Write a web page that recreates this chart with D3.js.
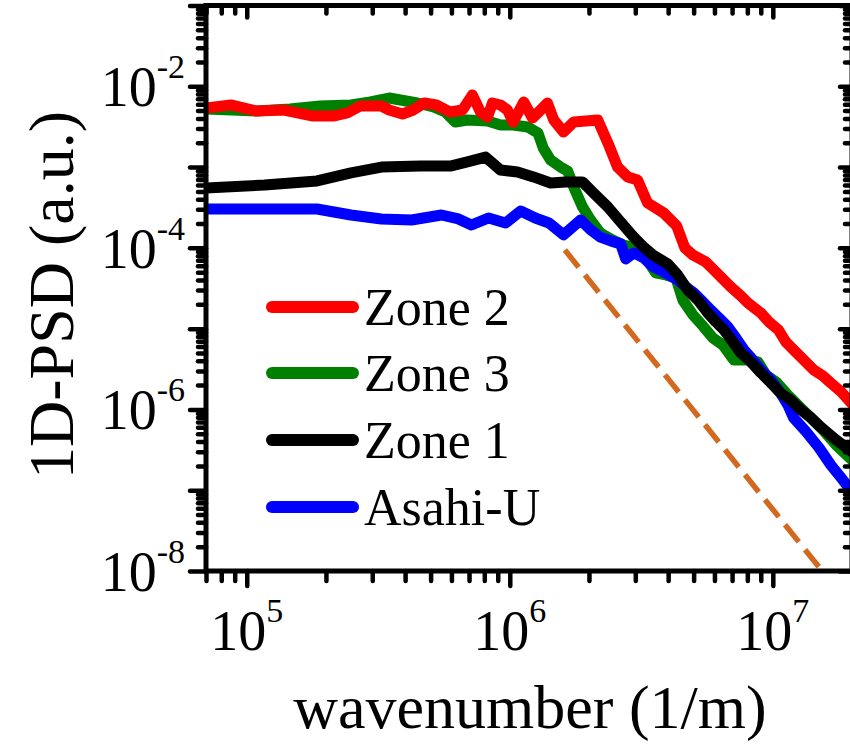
<!DOCTYPE html>
<html>
<head>
<meta charset="utf-8">
<script src="https://cdn.jsdelivr.net/npm/d3@7"></script>
<style>
  html, body { margin: 0; padding: 0; background: #fff; }
  svg { display: block; }
  text { font-family: "Liberation Serif", "Times New Roman", serif; fill: #000; }
</style>
</head>
<body>
<svg id="chart" width="850" height="745"></svg>
<script>
// 1D power spectral density vs. wavenumber, [k (1/m), PSD (a.u.)]
const zone2 = [
  [7.0e4, 5.38e-3], [8.7e4, 5.87e-3], [1.09e5, 4.94e-3], [1.37e5, 5.09e-3], [1.77e5, 4.29e-3],
  [2.15e5, 4.29e-3], [2.41e5, 4.67e-3], [2.70e5, 5.70e-3], [3.25e5, 5.70e-3], [3.48e5, 5.09e-3],
  [3.91e5, 4.54e-3], [4.30e5, 5.09e-3], [4.73e5, 6.21e-3], [5.26e5, 5.87e-3], [5.94e5, 4.80e-3],
  [6.61e5, 5.09e-3], [7.21e5, 7.80e-3], [7.74e5, 4.80e-3], [8.23e5, 4.17e-3], [8.59e5, 6.21e-3],
  [9.22e5, 5.87e-3], [9.80e5, 5.09e-3], [1.03e6, 3.61e-3], [1.13e6, 6.39e-3], [1.22e6, 4.05e-3],
  [1.31e6, 5.09e-3], [1.39e6, 6.21e-3], [1.47e6, 3.83e-3], [1.60e6, 2.72e-3], [1.75e6, 3.61e-3],
  [2.16e6, 3.83e-3], [2.36e6, 1.99e-3], [2.57e6, 1.00e-3], [2.81e6, 7.55e-4], [3.06e6, 6.92e-4],
  [3.34e6, 3.60e-4], [3.85e6, 2.70e-4], [4.31e6, 1.87e-4], [4.63e6, 9.98e-5], [4.96e6, 8.17e-5],
  [5.56e6, 6.69e-5], [5.81e6, 5.81e-5], [6.34e6, 4.37e-5], [6.92e6, 3.28e-5], [7.56e6, 2.54e-5],
  [8.04e6, 2.08e-5], [9.02e6, 1.56e-5], [9.67e6, 1.21e-5], [1.05e7, 9.64e-6], [1.12e7, 6.85e-6],
  [1.20e7, 5.45e-6], [1.31e7, 4.10e-6], [1.43e7, 3.08e-6], [1.55e7, 2.60e-6], [1.66e7, 2.13e-6],
  [1.82e7, 1.65e-6], [2.0e7, 1.17e-6]
];
const zone3 = [
  [7.0e4, 5.24e-3], [1.09e5, 4.94e-3], [1.46e5, 5.24e-3], [1.90e5, 5.70e-3], [2.49e5, 5.87e-3],
  [2.95e5, 6.39e-3], [3.48e5, 7.16e-3], [3.84e5, 6.76e-3], [4.45e5, 6.21e-3], [5.13e5, 5.54e-3],
  [5.69e5, 4.80e-3], [6.21e5, 3.61e-3], [6.90e5, 3.83e-3], [8.23e5, 3.72e-3], [9.22e5, 3.32e-3],
  [1.03e6, 3.32e-3], [1.17e6, 3.13e-3], [1.28e6, 2.64e-3], [1.34e6, 1.72e-3], [1.43e6, 1.22e-3],
  [1.56e6, 1.00e-3], [1.66e6, 8.95e-4], [1.75e6, 5.68e-4], [1.89e6, 3.21e-4], [2.03e6, 2.21e-4],
  [2.21e6, 1.53e-4], [2.46e6, 1.25e-4], [2.69e6, 1.09e-4], [2.88e6, 1.03e-4], [3.15e6, 9.42e-5],
  [3.37e6, 6.69e-5], [3.59e6, 4.89e-5], [3.92e6, 4.62e-5], [4.28e6, 4.24e-5], [4.55e6, 2.26e-5],
  [4.97e6, 1.48e-5], [5.42e6, 1.08e-5], [5.92e6, 7.67e-6], [6.46e6, 6.28e-6], [7.11e6, 4.10e-6],
  [7.90e6, 4.10e-6], [8.78e6, 3.87e-6], [9.42e6, 2.67e-6], [1.03e7, 2.19e-6], [1.14e7, 1.51e-6],
  [1.28e7, 1.04e-6], [1.42e7, 7.42e-7], [1.55e7, 5.57e-7], [1.74e7, 3.64e-7], [2.0e7, 2.37e-7]
];
const zone1 = [
  [7.0e4, 5.51e-4], [1.17e5, 6.00e-4], [1.85e5, 6.73e-4], [2.49e5, 8.46e-4], [3.25e5, 1.00e-3],
  [4.57e5, 1.03e-3], [5.94e5, 1.03e-3], [6.90e5, 1.16e-3], [8.09e5, 1.33e-3], [9.22e5, 9.20e-4],
  [1.07e6, 8.69e-4], [1.23e6, 7.55e-4], [1.43e6, 6.36e-4], [1.63e6, 6.54e-4], [1.89e6, 6.54e-4],
  [2.08e6, 4.78e-4], [2.36e6, 3.21e-4], [2.64e6, 2.09e-4], [2.96e6, 1.36e-4], [3.20e6, 1.05e-4],
  [3.50e6, 8.17e-5], [3.99e6, 6.32e-5], [4.35e6, 4.62e-5], [4.75e6, 3.01e-5], [5.19e6, 2.26e-5],
  [5.66e6, 1.56e-5], [6.08e6, 1.21e-5], [6.52e6, 9.64e-6], [7.05e6, 6.85e-6], [7.56e6, 5.00e-6],
  [8.26e6, 3.87e-6], [9.02e6, 2.83e-6], [9.84e6, 2.13e-6], [1.07e7, 1.60e-6], [1.17e7, 1.31e-6],
  [1.28e7, 9.86e-7], [1.40e7, 7.85e-7], [1.52e7, 6.07e-7], [1.74e7, 4.19e-7], [2.0e7, 2.98e-7]
];
const asahiU = [
  [7.0e4, 3.03e-4], [1.85e5, 3.03e-4], [2.49e5, 2.55e-4], [3.25e5, 2.28e-4], [4.23e5, 2.21e-4],
  [5.50e5, 2.55e-4], [6.38e5, 2.28e-4], [7.15e5, 1.92e-4], [8.30e5, 2.34e-4], [9.64e5, 2.03e-4],
  [1.10e6, 2.86e-4], [1.25e6, 2.34e-4], [1.41e6, 2.03e-4], [1.60e6, 1.45e-4], [1.86e6, 2.21e-4],
  [2.03e6, 1.67e-4], [2.21e6, 1.36e-4], [2.42e6, 1.22e-4], [2.64e6, 1.12e-4], [2.76e6, 7.29e-5],
  [2.96e6, 8.65e-5], [3.23e6, 7.50e-5], [3.52e6, 5.81e-5], [3.92e6, 4.89e-5], [4.35e6, 4.01e-5],
  [4.67e6, 3.28e-5], [5.01e6, 2.77e-5], [5.42e6, 2.14e-5], [5.81e6, 1.70e-5], [6.24e6, 1.36e-5],
  [6.75e6, 1.05e-5], [7.24e6, 7.67e-6], [7.77e6, 5.45e-6], [8.40e6, 4.10e-6], [9.02e6, 3.08e-6],
  [9.84e6, 2.32e-6], [1.07e7, 1.60e-6], [1.14e7, 1.14e-6], [1.20e7, 7.85e-7], [1.34e7, 5.27e-7],
  [1.50e7, 3.34e-7], [1.66e7, 2.06e-7], [1.82e7, 1.42e-7], [2.0e7, 9.53e-8]
];
// k^-4 reference slope
const slopeRef = [[1.62e6, 9.4e-5], [1.54e7, 1.0e-8]];

const seriesNames  = ["Zone 2", "Zone 3", "Zone 1", "Asahi-U"];
const seriesColors = ["#ff0000", "#008000", "#000000", "#0000ff"];
const xMajorTicks = [1e5, 1e6, 1e7];
const xTickExps   = ["5", "6", "7"];
const yMajorTicks = [1e-1, 1e-2, 1e-3, 1e-4, 1e-5, 1e-6, 1e-7, 1e-8];
const yLabelTicks = [1e-2, 1e-4, 1e-6, 1e-8];
const yTickExps   = ["-2", "-4", "-6", "-8"];
const xTitle = "wavenumber (1/m)";
const yTitle = "1D-PSD (a.u.)";

const FONT = '"Liberation Serif", "Times New Roman", serif';
const svg = d3.select("#chart");
const plot = { left: 206, right: 852, top: 5.5, bottom: 571 };

const x = d3.scaleLog().domain([7e4, 2e7]).range([plot.left, plot.right]);
const y = d3.scaleLog().domain([1e-8, 1e-1]).range([plot.bottom, plot.top]);

function minorsOf(scale) {
  const [a, b] = scale.domain().slice().sort((p, q) => p - q);
  const out = [];
  for (let e = Math.floor(Math.log10(a)); e <= Math.ceil(Math.log10(b)); e++) {
    for (let m = 2; m <= 9; m++) {
      const v = m * Math.pow(10, e);
      if (v >= a * 0.999 && v <= b * 1.001) out.push(v);
    }
  }
  return out;
}
const xMinor = minorsOf(x);
const yMinor = minorsOf(y);

svg.append("defs").append("clipPath").attr("id", "plotClip")
  .append("rect")
  .attr("x", plot.left).attr("y", plot.top)
  .attr("width", plot.right - plot.left).attr("height", plot.bottom - plot.top);

const line = d3.line().x(d => x(d[0])).y(d => y(d[1]));

const dataG = svg.append("g").attr("clip-path", "url(#plotClip)");

// dashed k^-4 guide
dataG.append("path")
  .datum(slopeRef)
  .attr("d", line)
  .attr("fill", "none")
  .attr("stroke", "#d2691e")
  .attr("stroke-width", 5.5)
  .attr("stroke-dasharray", "22,10");

const drawOrder = [
  { data: zone3, color: seriesColors[1] },
  { data: asahiU, color: seriesColors[3] },
  { data: zone1, color: seriesColors[2] },
  { data: zone2, color: seriesColors[0] }
];
drawOrder.forEach(s => {
  dataG.append("path")
    .datum(s.data)
    .attr("d", line)
    .attr("fill", "none")
    .attr("stroke", s.color)
    .attr("stroke-width", 11)
    .attr("stroke-linejoin", "round")
    .attr("stroke-linecap", "round");
});

// axes: ticks via d3 axis generators, frame drawn separately
function styleAxis(g, w) {
  g.select(".domain").remove();
  g.selectAll(".tick line").attr("stroke", "#000").attr("stroke-width", w).attr("stroke-linecap", "round");
}
// bottom (outward)
svg.append("g").attr("transform", `translate(0,${plot.bottom})`)
  .call(d3.axisBottom(x).tickValues(xMinor).tickSize(10).tickFormat(""))
  .call(g => styleAxis(g, 4.5));
svg.append("g").attr("transform", `translate(0,${plot.bottom})`)
  .call(d3.axisBottom(x).tickValues(xMajorTicks).tickSize(15).tickFormat(""))
  .call(g => styleAxis(g, 4.5));
// top (inward)
svg.append("g").attr("transform", `translate(0,${plot.top})`)
  .call(d3.axisBottom(x).tickValues(xMinor).tickSize(8).tickFormat(""))
  .call(g => styleAxis(g, 4.5));
svg.append("g").attr("transform", `translate(0,${plot.top})`)
  .call(d3.axisBottom(x).tickValues(xMajorTicks).tickSize(12).tickFormat(""))
  .call(g => styleAxis(g, 4.5));
// left (outward)
svg.append("g").attr("transform", `translate(${plot.left},0)`)
  .call(d3.axisLeft(y).tickValues(yMinor).tickSize(8).tickFormat(""))
  .call(g => styleAxis(g, 4.5));
svg.append("g").attr("transform", `translate(${plot.left},0)`)
  .call(d3.axisLeft(y).tickValues(yMajorTicks).tickSize(16).tickFormat(""))
  .call(g => styleAxis(g, 4.5));
// right (inward)
svg.append("g").attr("transform", `translate(${plot.right},0)`)
  .call(d3.axisLeft(y).tickValues(yMinor).tickSize(7).tickFormat(""))
  .call(g => styleAxis(g, 4.5));
svg.append("g").attr("transform", `translate(${plot.right},0)`)
  .call(d3.axisLeft(y).tickValues(yMajorTicks).tickSize(12).tickFormat(""))
  .call(g => styleAxis(g, 4.5));

// frame
svg.append("rect")
  .attr("x", plot.left).attr("y", plot.top)
  .attr("width", plot.right - plot.left).attr("height", plot.bottom - plot.top)
  .attr("fill", "none").attr("stroke", "#000").attr("stroke-width", 5);

// tick labels with superscript exponents
const baseSize = 56, supSize = 34;
xMajorTicks.forEach((v, i) => {
  const t = svg.append("text")
    .attr("x", x(v)).attr("y", 650)
    .attr("text-anchor", "middle")
    .attr("font-family", FONT)
    .attr("font-size", baseSize);
  t.append("tspan").text("10");
  t.append("tspan").attr("font-size", supSize).attr("dy", -28).text(xTickExps[i]);
});
yLabelTicks.forEach((v, i) => {
  const t = svg.append("text")
    .attr("x", 185).attr("y", y(v) + 20)
    .attr("text-anchor", "end")
    .attr("font-family", FONT)
    .attr("font-size", baseSize);
  t.append("tspan").text("10");
  t.append("tspan").attr("font-size", supSize).attr("dy", -28).text(yTickExps[i]);
});

// axis titles
svg.append("text")
  .attr("x", 530).attr("y", 728)
  .attr("text-anchor", "middle")
  .attr("font-family", FONT)
  .attr("font-size", 62)
  .text(xTitle);
svg.append("text")
  .attr("transform", `translate(73,295) rotate(-90)`)
  .attr("text-anchor", "middle")
  .attr("font-family", FONT)
  .attr("font-size", 64)
  .text(yTitle);

// legend
const legendY = [307, 373, 440, 507];
seriesNames.forEach((name, i) => {
  svg.append("line")
    .attr("x1", 272).attr("x2", 353)
    .attr("y1", legendY[i]).attr("y2", legendY[i])
    .attr("stroke", seriesColors[i]).attr("stroke-width", 12)
    .attr("stroke-linecap", "round");
  svg.append("text")
    .attr("x", 364).attr("y", legendY[i] + 18)
    .attr("font-family", FONT)
    .attr("font-size", 52)
    .text(name);
});
</script>
</body>
</html>
